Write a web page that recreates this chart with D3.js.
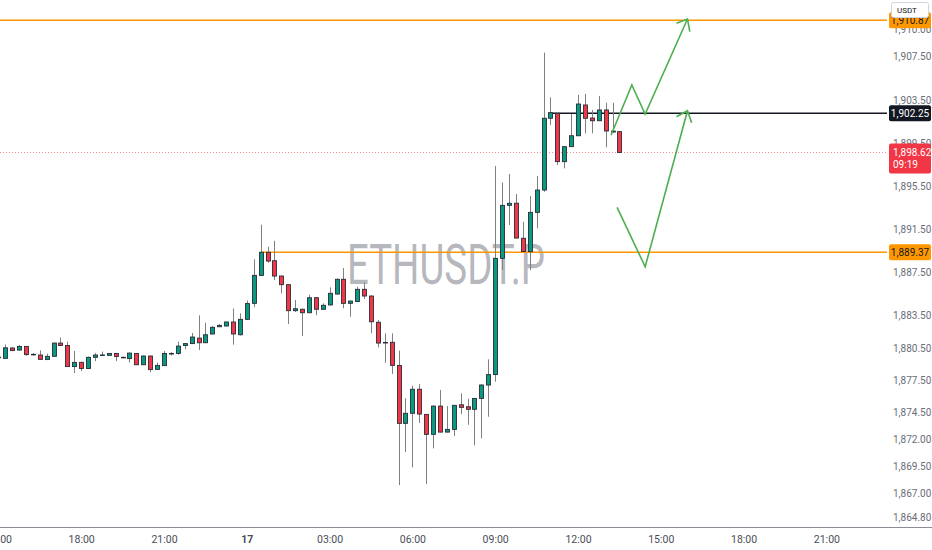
<!DOCTYPE html>
<html><head><meta charset="utf-8">
<script src="https://cdn.jsdelivr.net/npm/d3@7"></script>
<style>html,body{margin:0;padding:0;background:#fff;}svg{display:block;}</style>
</head><body>
<script>
// ---------- DATA ----------
const symbol = "ETHUSDT.P";
const firstCandle = "2023-07-16T15:00:00"; // 15-minute candles
const open  = [1879.65,1879.54,1880.50,1880.31,1880.65,1879.92,1879.85,1879.43,1879.73,1880.96,1880.73,1878.78,1879.17,1878.60,1879.64,1879.83,1879.82,1879.99,1879.64,1879.52,1880.00,1878.95,1879.76,1878.52,1878.87,1879.97,1880.00,1880.73,1880.91,1881.42,1880.99,1881.80,1882.47,1882.54,1882.91,1881.73,1883.16,1884.64,1887.23,1889.37,1888.59,1887.17,1886.37,1883.96,1884.09,1883.77,1885.16,1884.09,1884.49,1885.50,1886.87,1884.64,1884.81,1885.94,1885.32,1882.89,1881.02,1881.03,1878.89,1873.52,1874.45,1876.68,1874.35,1872.50,1875.12,1872.71,1872.96,1875.24,1875.06,1874.82,1875.83,1877.07,1878.04,1888.81,1893.72,1893.92,1890.67,1889.43,1893.07,1895.14,1901.79,1902.25,1897.77,1899.16,1900.17,1903.02,1901.81,1901.56,1902.56,1900.60,1900.55];
const high  = [1879.75,1880.83,1880.59,1880.77,1880.68,1880.03,1880.28,1879.97,1881.01,1881.47,1881.09,1880.22,1879.24,1879.71,1880.03,1880.17,1880.03,1880.03,1879.71,1880.08,1880.03,1879.80,1879.80,1879.15,1880.22,1880.12,1881.10,1880.96,1881.89,1883.53,1882.84,1882.54,1882.72,1882.96,1884.16,1883.71,1884.90,1888.72,1891.93,1889.89,1890.44,1887.22,1886.43,1884.95,1884.16,1885.44,1885.23,1884.64,1886.12,1886.94,1887.91,1884.90,1886.18,1886.57,1885.37,1883.09,1881.86,1881.86,1880.26,1875.85,1877.02,1877.16,1874.38,1875.17,1876.61,1875.12,1875.22,1876.30,1875.80,1875.86,1877.16,1879.45,1897.36,1895.84,1896.62,1894.77,1892.19,1894.58,1896.44,1907.87,1903.73,1902.28,1899.22,1902.19,1903.95,1904.04,1902.56,1903.85,1903.23,1903.23,1900.58];
const low   = [1879.50,1879.52,1880.22,1880.26,1879.78,1879.80,1879.43,1879.38,1879.71,1880.68,1878.74,1878.18,1878.36,1878.55,1879.29,1879.78,1879.76,1879.29,1879.57,1879.17,1878.92,1878.92,1878.27,1878.50,1878.83,1879.80,1879.88,1880.38,1880.87,1880.31,1880.96,1881.75,1882.45,1882.49,1880.81,1881.66,1883.09,1884.27,1887.17,1888.40,1886.80,1885.57,1882.72,1883.84,1881.61,1883.74,1883.53,1884.02,1884.44,1885.46,1884.18,1883.40,1884.76,1885.04,1881.86,1880.56,1879.14,1878.09,1867.80,1870.86,1869.44,1873.55,1867.89,1871.20,1872.67,1872.67,1872.34,1874.38,1873.39,1871.48,1872.13,1874.13,1877.38,1887.73,1891.90,1890.65,1889.42,1887.73,1891.59,1894.98,1901.17,1897.46,1897.15,1899.13,1900.14,1900.40,1900.40,1901.54,1899.10,1900.42,1898.62];
const close = [1879.60,1880.52,1880.26,1880.65,1879.89,1879.90,1879.45,1879.73,1880.96,1880.73,1878.78,1879.17,1878.60,1879.64,1879.85,1879.86,1879.99,1879.71,1879.62,1880.03,1878.95,1879.76,1878.50,1878.89,1879.99,1880.00,1880.68,1880.91,1881.52,1880.99,1881.73,1882.42,1882.60,1882.91,1881.80,1883.16,1884.62,1887.23,1889.37,1888.56,1887.17,1886.37,1883.96,1884.14,1883.77,1885.16,1884.09,1884.46,1885.57,1886.87,1884.64,1884.85,1885.94,1885.32,1882.93,1880.96,1881.00,1878.89,1873.52,1874.45,1876.68,1874.38,1872.50,1875.12,1872.71,1872.96,1875.19,1875.00,1874.82,1875.83,1877.07,1878.04,1888.81,1893.72,1893.91,1890.69,1889.44,1893.07,1895.14,1901.79,1902.31,1897.77,1899.16,1900.17,1903.11,1901.79,1901.56,1902.56,1900.61,1900.52,1898.62];

const priceTicks = [1910.00,1907.50,1903.50,1899.50,1895.50,1891.50,1887.50,1883.50,1880.50,1877.50,1874.50,1872.00,1869.50,1867.00,1864.80];
const timeTicks = ["2023-07-16T15:00","2023-07-16T18:00","2023-07-16T21:00","2023-07-17T00:00","2023-07-17T03:00","2023-07-17T06:00","2023-07-17T09:00","2023-07-17T12:00","2023-07-17T15:00","2023-07-17T18:00","2023-07-17T21:00"];

// horizontal levels: price, start time, colour
const levelPrices = [1910.87, 1902.25, 1889.37];
const levelStarts = ["2023-07-16T12:00", "2023-07-17T11:00", "2023-07-17T00:30"];
const levelColors = ["#ff9800", "#131722", "#ff9800"];
const lastPrice = 1898.62;
const countdown = "09:19";
const quoteUnit = "USDT";

// hand-drawn green arrows (time, price)
const arrow1 = [["2023-07-17T13:12",1900.24],["2023-07-17T13:57",1904.87],["2023-07-17T14:26",1902.18],["2023-07-17T15:58",1910.99]];
const arrow1Head = [["2023-07-17T15:34",1910.59],["2023-07-17T15:58",1910.99],["2023-07-17T16:03",1909.81]];
const arrow2 = [["2023-07-17T13:25",1893.54],["2023-07-17T14:26",1888.03],["2023-07-17T15:58",1902.49]];
const arrow2Head = [["2023-07-17T15:34",1901.93],["2023-07-17T15:58",1902.49],["2023-07-17T16:07",1901.38]];

// ---------- CHART ----------
const W = 932, H = 550, plotW = 887, plotH = 527;
const parse = s => new Date(s);
const candles = open.map((o,i)=>({t: d3.timeMinute.offset(parse(firstCandle), 15*i), o, h: high[i], l: low[i], c: close[i]}));

const x = d3.scaleTime()
  .domain([parse("2023-07-16T15:15"), parse("2023-07-17T21:00")])
  .range([5.3, 826.4]);
const y = d3.scaleLinear().domain([1889.37, 1902.25]).range([252.3, 113.3]);

const svg = d3.select("body").append("svg").attr("width", W).attr("height", H)
  .style("font-family", "Roboto, 'Liberation Sans', sans-serif");
svg.append("rect").attr("width", W).attr("height", H).attr("fill", "#fff");
svg.append("defs").append("clipPath").attr("id","plot")
  .append("rect").attr("x",0).attr("y",0).attr("width",plotW).attr("height",plotH);

const plot = svg.append("g").attr("clip-path","url(#plot)");

// watermark
plot.append("text").attr("x", 446).attr("y", 284).attr("text-anchor","middle")
  .attr("font-size", 55).attr("fill", "#787b86").attr("fill-opacity", 0.55)
  .attr("textLength", 198).attr("lengthAdjust","spacingAndGlyphs")
  .text(symbol);

// last price dotted line
plot.append("line").attr("x1",0).attr("x2",plotW)
  .attr("y1", y(lastPrice)).attr("y2", y(lastPrice))
  .attr("stroke","#f23645").attr("stroke-opacity",0.6).attr("stroke-width",1).attr("stroke-dasharray","1,2");

// level lines
plot.selectAll(".lvl").data(levelPrices).join("line").attr("class","lvl")
  .attr("x1",(d,i)=>Math.max(0,x(parse(levelStarts[i])))).attr("x2",plotW)
  .attr("y1",d=>y(d)).attr("y2",d=>y(d))
  .attr("stroke",(d,i)=>levelColors[i]).attr("stroke-width",1.6);

// candles
const g = plot.append("g");
const cg = g.selectAll("g").data(candles).join("g");
cg.append("line")
  .attr("x1",d=>Math.round(x(d.t))+0.5).attr("x2",d=>Math.round(x(d.t))+0.5)
  .attr("y1",d=>y(d.h)).attr("y2",d=>y(d.l))
  .attr("stroke","#808080").attr("stroke-width",1);
cg.append("rect")
  .attr("x",d=>Math.round(x(d.t))+0.5-2)
  .attr("width",4)
  .attr("y",d=>y(Math.max(d.o,d.c)))
  .attr("height",d=>Math.max(0.6, Math.abs(y(d.o)-y(d.c))))
  .attr("fill",d=>d.c>=d.o ? "#089981" : "#f23645")
  .attr("stroke","#2a2e39").attr("stroke-width",0.9);

// arrows
const line = d3.line().x(d=>x(parse(d[0]))).y(d=>y(d[1]));
[arrow1, arrow1Head, arrow2, arrow2Head].forEach(a=>{
  plot.append("path").attr("d", line(a)).attr("fill","none")
    .attr("stroke","#4caf50").attr("stroke-width",1.6).attr("stroke-linejoin","miter");
});

// bottom axis line
svg.append("line").attr("x1",0).attr("x2",W).attr("y1",plotH+0.5).attr("y2",plotH+0.5)
  .attr("stroke","#8a8d96").attr("stroke-width",1);

// time axis
const fmtTime = d => (d.getHours()===0 && d.getMinutes()===0) ? String(d.getDate()) : d3.timeFormat("%H:%M")(d);
const xa = svg.append("g").attr("transform",`translate(0,${plotH})`)
  .call(d3.axisBottom(x).tickValues(timeTicks.map(parse)).tickFormat(fmtTime).tickSize(0).tickPadding(9));
xa.select(".domain").remove();
xa.selectAll("text").attr("font-size",10.5).attr("fill","#4a4d57").attr("font-family","Roboto, sans-serif")
  .attr("font-weight", d => (d.getHours()===0 ? "bold" : "normal"));

// price axis
const ya = svg.append("g").attr("transform",`translate(${plotW+6},0)`)
  .call(d3.axisRight(y).tickValues(priceTicks).tickFormat(d3.format(",.2f")).tickSize(0).tickPadding(0));
ya.select(".domain").remove();
ya.selectAll("text").attr("font-size",10).attr("fill","#6a6d78").attr("font-family","Roboto, sans-serif");

// badges for levels
const fmt = d3.format(",.2f");
const bx = plotW + 2, bw = W - plotW - 3;
levelPrices.forEach((p,i)=>{
  const yy = y(p);
  svg.append("rect").attr("x",bx).attr("y",yy-8).attr("width",bw).attr("height",16).attr("rx",2)
    .attr("fill",levelColors[i]);
  svg.append("text").attr("x",bx+bw/2).attr("y",yy+3.5).attr("text-anchor","middle")
    .attr("font-size",10).attr("fill", levelColors[i]==="#131722" ? "#fff" : "#131722").text(fmt(p));
});
// last price badge
{
  const yy = y(lastPrice);
  svg.append("rect").attr("x",bx).attr("y",yy-9).attr("width",bw).attr("height",30).attr("rx",2)
    .attr("fill","#f23645");
  svg.append("text").attr("x",bx+4).attr("y",yy+3.5).attr("font-size",10).attr("fill","#fff").text(fmt(lastPrice));
  svg.append("text").attr("x",bx+4).attr("y",yy+16).attr("font-size",10).attr("fill","#fff").text(countdown);
}
// quote unit box
svg.append("rect").attr("x",plotW+4.5).attr("y",2.5).attr("width",37).attr("height",15).attr("rx",2)
  .attr("fill","#fff").attr("stroke","#d1d4dc");
svg.append("text").attr("x",plotW+10).attr("y",13).attr("font-size",8).attr("fill","#131722").text(quoteUnit);
</script>
</body></html>
